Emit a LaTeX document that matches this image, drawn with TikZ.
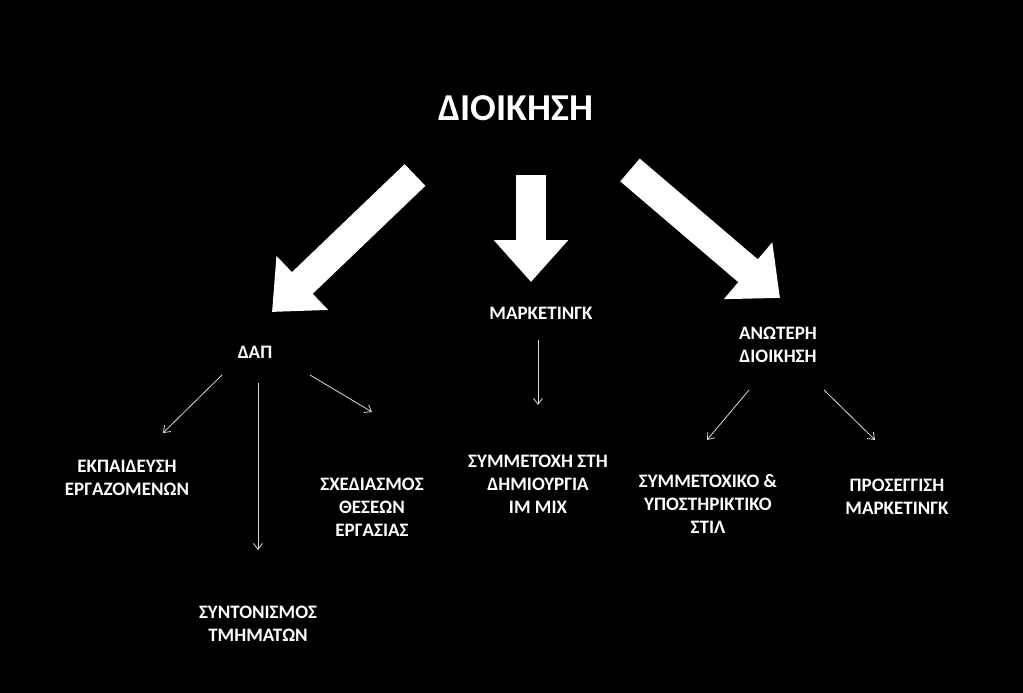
\documentclass[tikz,border=0pt]{standalone}
\usepackage{fontspec}
\setmainfont{Carlito}
\usetikzlibrary{arrows.meta}
\begin{document}
\begin{tikzpicture}[x=1pt,y=-1pt,
  lbl/.style={text=white,font=\bfseries\fontsize{19}{23}\selectfont,align=center,inner sep=0},
  big/.style={draw=white,line width=30pt,-{Triangle[width=72pt,length=42pt]}},
  thin/.style={draw=white!85!black,line width=0.8pt,-{Straight Barb[length=6pt,width=9pt]}}]
\fill[black] (0,0) rectangle (1023,693);
\useasboundingbox (0,0) rectangle (1023,693);
\node[lbl,font=\bfseries\fontsize{38}{44}\selectfont] (top) at (516,108) {ΔΙΟΙΚΗΣΗ};
\node[lbl] (dap) at (255,352) {ΔΑΠ};
\node[lbl] (mkt) at (541,313) {ΜΑΡΚΕΤΙΝΓΚ};
\node[lbl] (anot) at (778,345) {ΑΝΩΤΕΡΗ\\ΔΙΟΙΚΗΣΗ};
\node[lbl] (ekp) at (127,478) {ΕΚΠΑΙΔΕΥΣΗ\\ΕΡΓΑΖΟΜΕΝΩΝ};
\node[lbl] (syn) at (258,624) {ΣΥΝΤΟΝΙΣΜΟΣ\\ΤΜΗΜΑΤΩΝ};
\node[lbl] (sxe) at (372,507) {ΣΧΕΔΙΑΣΜΟΣ\\ΘΕΣΕΩΝ\\ΕΡΓΑΣΙΑΣ};
\node[lbl] (sym) at (538,484) {ΣΥΜΜΕΤΟΧΗ ΣΤΗ\\ΔΗΜΙΟΥΡΓΙΑ\\ΙΜ ΜΙΧ};
\node[lbl] (stil) at (708,504) {ΣΥΜΜΕΤΟΧΙΚΟ \&\\ΥΠΟΣΤΗΡΙΚΤΙΚΟ\\ΣΤΙΛ};
\node[lbl] (pros) at (897,497) {ΠΡΟΣΕΓΓΙΣΗ\\ΜΑΡΚΕΤΙΝΓΚ};
% big arrows
\coordinate (b1s) at (415,175); \coordinate (b1e) at (272,312);
\coordinate (b2s) at (531,175); \coordinate (b2e) at (531,282);
\coordinate (b3s) at (630,170); \coordinate (b3e) at (780,298);
\draw[big] (b1s) -- (b1e);
\draw[big] (b2s) -- (b2e);
\draw[big] (b3s) -- (b3e);
% thin arrows
\draw[thin] (222,375) coordinate (t1s) -- (163,433) coordinate (t1e);
\draw[thin] (258,383) coordinate (t2s) -- (258,550) coordinate (t2e);
\draw[thin] (310,375) coordinate (t3s) -- (372,412) coordinate (t3e);
\draw[thin] (538,340) coordinate (t4s) -- (538,405) coordinate (t4e);
\draw[thin] (749,390) coordinate (t5s) -- (707,440) coordinate (t5e);
\draw[thin] (824,390) coordinate (t6s) -- (875,440) coordinate (t6e);
\end{tikzpicture}
\end{document}
